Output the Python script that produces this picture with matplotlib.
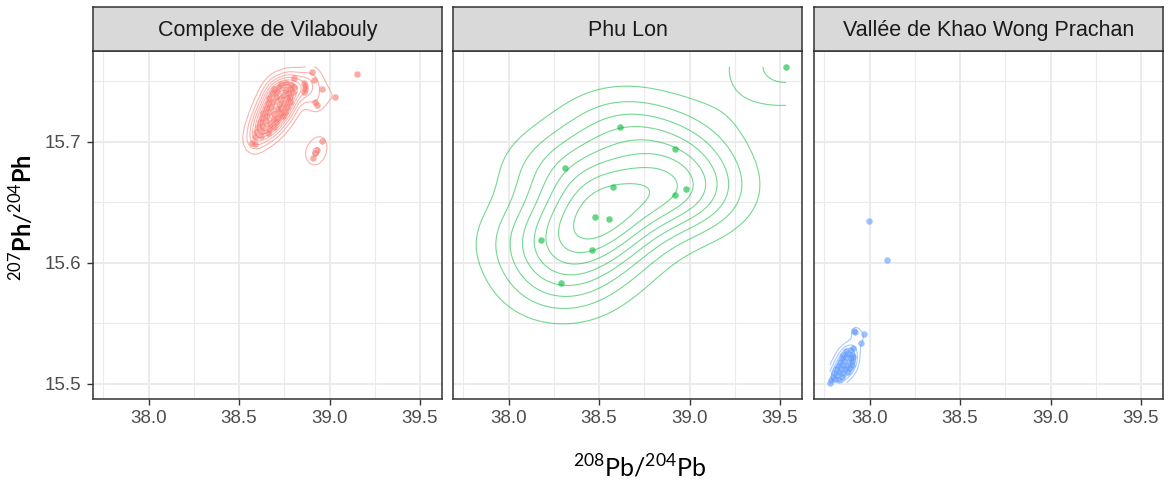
import numpy as np
import matplotlib
matplotlib.use("Agg")
import matplotlib.pyplot as plt

plt.rcParams['font.family'] = ['Liberation Sans', 'DejaVu Sans']
plt.rcParams['mathtext.fontset'] = 'custom'
plt.rcParams['mathtext.rm'] = 'Lato'
plt.rcParams['mathtext.bf'] = 'Lato:bold'

# ---------------- data ----------------
panels = ["Complexe de Vilabouly", "Phu Lon", "Vallée de Khao Wong Prachan"]
colors = ["#F8766D", "#00BA38", "#619CFF"]

vil_x = [38.730, 38.762, 38.788,
         38.692, 38.718, 38.752, 38.779, 38.801,
         38.683, 38.708, 38.741, 38.772, 38.796,
         38.668, 38.703, 38.728, 38.763, 38.784,
         38.661, 38.688, 38.722, 38.749, 38.781,
         38.646, 38.674, 38.707, 38.733, 38.766,
         38.633, 38.667, 38.694, 38.727, 38.753,
         38.626, 38.652, 38.687, 38.713, 38.742,
         38.614, 38.647, 38.673, 38.706,
         38.606, 38.633, 38.668, 38.693,
         38.596, 38.624, 38.658,
         38.588, 38.619,
         38.572, 38.586,
         38.805, 38.857, 38.862, 38.866, 38.860, 38.905, 38.916, 38.957, 38.920, 38.929,
         39.030, 39.150,
         38.957, 38.929, 38.920, 38.911]
vil_y = [15.748, 15.749, 15.747,
         15.744, 15.745, 15.743, 15.744, 15.745,
         15.740, 15.741, 15.739, 15.740, 15.741,
         15.736, 15.737, 15.735, 15.736, 15.737,
         15.732, 15.733, 15.731, 15.732, 15.733,
         15.728, 15.729, 15.727, 15.728, 15.729,
         15.724, 15.725, 15.723, 15.724, 15.725,
         15.720, 15.721, 15.719, 15.720, 15.721,
         15.716, 15.717, 15.715, 15.716,
         15.712, 15.713, 15.711, 15.712,
         15.708, 15.709, 15.707,
         15.704, 15.705,
         15.699, 15.698,
         15.7526, 15.7485, 15.746, 15.744, 15.7415, 15.758, 15.7507, 15.744, 15.733, 15.7306,
         15.737, 15.756,
         15.701, 15.693, 15.691, 15.687]

phu_x = [39.534, 38.617, 38.917, 38.309, 38.578, 38.982, 38.917, 38.477, 38.552, 38.177,
         38.460, 38.290]
phu_y = [15.762, 15.712, 15.694, 15.678, 15.663, 15.661, 15.656, 15.638, 15.636, 15.619,
         15.611, 15.583]

kwp_x = [37.870, 37.895, 37.910,
         37.855, 37.880, 37.905,
         37.845, 37.870, 37.895, 37.910,
         37.835, 37.860, 37.885, 37.905,
         37.825, 37.850, 37.875, 37.900,
         37.815, 37.840, 37.865, 37.890,
         37.805, 37.830, 37.855, 37.880,
         37.795, 37.820, 37.845,
         37.785, 37.810, 37.830,
         37.780,
         37.915, 37.920, 37.966, 37.951, 37.997, 38.098]
kwp_y = [15.527, 15.528, 15.530,
         15.524, 15.525, 15.524,
         15.521, 15.522, 15.521, 15.522,
         15.518, 15.519, 15.518, 15.519,
         15.515, 15.516, 15.515, 15.516,
         15.512, 15.513, 15.512, 15.513,
         15.509, 15.510, 15.509, 15.510,
         15.506, 15.507, 15.506,
         15.503, 15.504, 15.503,
         15.501,
         15.5435, 15.5432, 15.5413, 15.534, 15.635, 15.602]

xs = [np.array(vil_x), np.array(phu_x), np.array(kwp_x)]
ys = [np.array(vil_y), np.array(phu_y), np.array(kwp_y)]

x_ticks = [38.0, 38.5, 39.0, 39.5]
y_ticks = [15.5, 15.6, 15.7]


# ------------- helpers (R-like) -------------
def bandwidth_nrd(v):
    q = np.percentile(v, [25, 75])
    h = (q[1] - q[0]) / 1.34
    return 4 * 1.06 * min(np.std(v, ddof=1), h) * len(v) ** (-0.2)


def dnorm(a):
    return np.exp(-0.5 * a * a) / np.sqrt(2 * np.pi)


def kde2d(x, y, lims, n=100):
    gx = np.linspace(lims[0], lims[1], n)
    gy = np.linspace(lims[2], lims[3], n)
    hx = bandwidth_nrd(x) / 4
    hy = bandwidth_nrd(y) / 4
    ax = (gx[:, None] - x[None, :]) / hx
    ay = (gy[:, None] - y[None, :]) / hy
    z = dnorm(ax) @ dnorm(ay).T / (len(x) * hx * hy)
    return gx, gy, z


def r_pretty(lo, hi, n=10):
    dx = hi - lo
    cell = dx / n
    U = 10 ** np.floor(np.log10(cell))
    unit = U
    h = 1.5
    h5 = 0.5 + 1.5 * h
    if 2 * U - cell < h * (cell - unit):
        unit = 2 * U
        if 5 * U - cell < h5 * (cell - unit):
            unit = 5 * U
            if 10 * U - cell < h * (cell - unit):
                unit = 10 * U
    ns = np.floor(lo / unit + 1e-7)
    nu = np.ceil(hi / unit - 1e-7)
    return np.arange(ns, nu + 1) * unit


allx = np.concatenate(xs)
ally = np.concatenate(ys)
lims = [allx.min(), allx.max(), ally.min(), ally.max()]
ex = 0.05 * (lims[1] - lims[0])
ey = 0.05 * (lims[3] - lims[2])
xlim = (lims[0] - ex, lims[1] + ex)
ylim = (lims[2] - ey, lims[3] + ey)

# ---------------- figure ----------------
W, H = 1168, 486
fig = plt.figure(figsize=(W / 100, H / 100), dpi=100)

panel_left = [93, 453, 814]
panel_w = 349
p_top, p_bot = 51, 398.5
s_top = 7

dark = "#333333"
grid_c = "#EBEBEB"

for i in range(3):
    l = panel_left[i] / W
    ax = fig.add_axes([l, (H - p_bot) / H, panel_w / W, (p_bot - p_top) / H])
    ax.set_xlim(xlim)
    ax.set_ylim(ylim)
    # grid
    for v in np.arange(37.75, 39.8, 0.5):
        ax.axvline(v, color=grid_c, lw=0.8, zorder=0)
    for v in x_ticks:
        ax.axvline(v, color=grid_c, lw=1.4, zorder=0)
    for v in [15.55, 15.65, 15.75]:
        ax.axhline(v, color=grid_c, lw=0.8, zorder=0)
    for v in y_ticks:
        ax.axhline(v, color=grid_c, lw=1.4, zorder=0)

    gx, gy, z = kde2d(xs[i], ys[i], lims)
    levels = r_pretty(z.min(), z.max(), 10)
    levels = levels[levels > 0]
    ax.contour(gx, gy, z.T, levels=levels, colors=colors[i], linewidths=0.8,
               alpha=0.55, zorder=2)
    ax.scatter(xs[i], ys[i], s=22, color=colors[i], alpha=0.6, linewidths=0, zorder=3)

    ax.set_xticks(x_ticks)
    ax.set_xticklabels([f"{v:.1f}" for v in x_ticks])
    ax.set_yticks(y_ticks)
    if i == 0:
        ax.set_yticklabels([f"{v:.1f}" for v in y_ticks])
    else:
        ax.tick_params(axis='y', left=False, labelleft=False)
    ax.tick_params(axis='both', colors=dark, labelcolor="#4D4D4D", labelsize=13.5,
                   length=4.5, width=1, pad=4)
    for sp in ax.spines.values():
        sp.set_color(dark)
        sp.set_linewidth(1.1)

    # strip
    sax = fig.add_axes([l, (H - p_top) / H, panel_w / W, (p_top - s_top) / H])
    sax.set_facecolor("#D9D9D9")
    sax.set_xticks([])
    sax.set_yticks([])
    for sp in sax.spines.values():
        sp.set_color(dark)
        sp.set_linewidth(1.1)
    sax.text(0.5, 0.47, panels[i], transform=sax.transAxes, ha='center', va='center',
             fontsize=15.5, color="#1A1A1A")

fig.text(640 / W, 1 - 468 / H, r'$^{208}$Pb/$^{204}$Pb', ha='center', va='center',
         fontsize=18, color='black', family='Lato')
fig.text(22 / W, 1 - 218 / H, r'$^{207}\mathbf{Ph}/^{204}\mathbf{Ph}$', ha='center',
         va='center', rotation=90, fontsize=17, color='black')

fig.savefig("out.png", dpi=100)
